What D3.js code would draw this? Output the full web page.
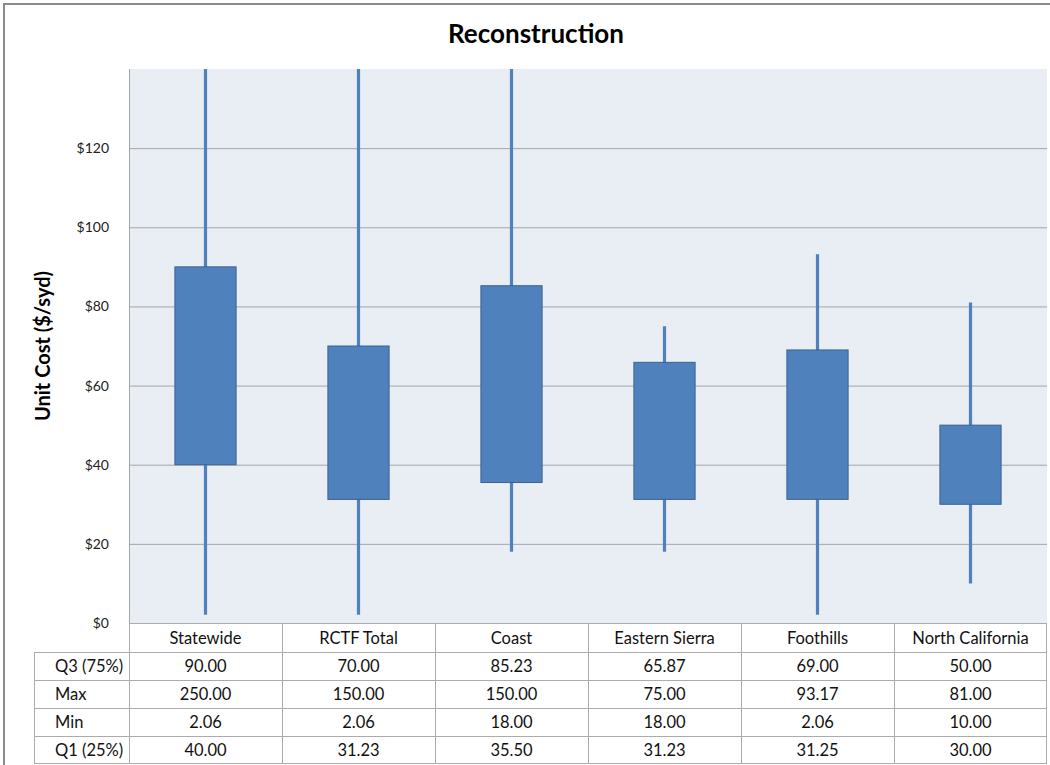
<!DOCTYPE html>
<html>
<head>
<meta charset="utf-8">
<script src="https://cdn.jsdelivr.net/npm/d3@7"></script>
<style>
  body { margin: 0; background: #fff; }
  svg { display: block; }
  text { font-family: Lato, "Open Sans", sans-serif; }
</style>
</head>
<body>
<svg id="chart" width="1050" height="765"></svg>
<script>
const categories = ["Statewide", "RCTF Total", "Coast", "Eastern Sierra", "Foothills", "North California"];
const q3Values  = [90.00, 70.00, 85.23, 65.87, 69.00, 50.00];
const maxValues = [250.00, 150.00, 150.00, 75.00, 93.17, 81.00];
const minValues = [2.06, 2.06, 18.00, 18.00, 2.06, 10.00];
const q1Values  = [40.00, 31.23, 35.50, 31.23, 31.25, 30.00];
const rowLabels = ["Q3 (75%)", "Max", "Min", "Q1 (25%)"];
const yTicks = [0, 20, 40, 60, 80, 100, 120];
const title = "Reconstruction";
const yTitle = "Unit Cost ($/syd)";

const rowsData = [q3Values, maxValues, minValues, q1Values];

const svg = d3.select("#chart");
const plot = { left: 129, right: 1047, top: 69, bottom: 623 };
const blue = "#4F81BD", boxStroke = "#3A6292", gridCol = "#A5A5A5", tableLine = "#ABABAB";

// outer border
svg.append("path").attr("d", "M4,765 V4 H1050").attr("fill", "none").attr("stroke", "#8C8C8C").attr("stroke-width", 2);

const x = d3.scaleBand().domain(categories).range([plot.left, plot.right]);
const y = d3.scaleLinear().domain([0, 140]).range([plot.bottom, plot.top]);

// background
svg.append("rect").attr("x", plot.left).attr("y", plot.top)
  .attr("width", plot.right - plot.left).attr("height", plot.bottom - plot.top)
  .attr("fill", "#E9EDF4");

// grid
const grid = svg.append("g").attr("transform", `translate(${plot.left},0)`)
  .call(d3.axisLeft(y).tickValues(yTicks).tickSize(-(plot.right - plot.left)).tickFormat(""));
grid.select(".domain").remove();
grid.selectAll("line").attr("stroke", gridCol).attr("stroke-width", 1);

// y axis labels
const yAxis = svg.append("g").attr("transform", `translate(${plot.left - 17},0)`)
  .call(d3.axisLeft(y).tickValues(yTicks).tickSize(0).tickFormat(d => "$" + d));
yAxis.select(".domain").remove();
yAxis.selectAll("text").attr("font-size", 14).attr("fill", "#222").attr("font-family", "Lato, sans-serif");

// left axis line
svg.append("line").attr("x1", plot.left + 0.5).attr("x2", plot.left + 0.5)
  .attr("y1", plot.top).attr("y2", plot.bottom).attr("stroke", gridCol);

// clip
svg.append("clipPath").attr("id", "clip").append("rect")
  .attr("x", plot.left).attr("y", plot.top)
  .attr("width", plot.right - plot.left).attr("height", plot.bottom - plot.top);

const marks = svg.append("g").attr("clip-path", "url(#clip)");
const boxW = x.bandwidth() * 0.4;
categories.forEach((c, i) => {
  const cx = x(c) + x.bandwidth() / 2;
  marks.append("line").attr("x1", cx).attr("x2", cx)
    .attr("y1", y(minValues[i])).attr("y2", y(maxValues[i]))
    .attr("stroke", blue).attr("stroke-width", 3.2);
  marks.append("rect").attr("x", cx - boxW / 2).attr("y", y(q3Values[i]))
    .attr("width", boxW).attr("height", y(q1Values[i]) - y(q3Values[i]))
    .attr("fill", blue).attr("stroke", boxStroke).attr("stroke-width", 1);
});

// title
svg.append("text").attr("x", 536).attr("y", 43).attr("text-anchor", "middle")
  .attr("font-size", 26).attr("font-weight", "bold").attr("fill", "#000").text(title);

// y title
svg.append("text").attr("transform", `translate(50,${(plot.top + plot.bottom) / 2}) rotate(-90)`)
  .attr("text-anchor", "middle").attr("font-size", 20).attr("font-weight", "bold").attr("fill", "#000")
  .text(yTitle);

// table
const tableTop = 624, rowH = 28;
const rowScale = d3.scaleBand().domain(rowLabels).range([tableTop + rowH, tableTop + rowH * 5]);
const tbl = svg.append("g");
const tableLeft = 34;
const fs = 16.5;

// horizontal lines
tbl.append("line").attr("x1", plot.left).attr("x2", plot.right).attr("y1", plot.bottom + 0.5).attr("y2", plot.bottom + 0.5).attr("stroke", tableLine);
rowLabels.forEach(r => {
  tbl.append("line").attr("x1", tableLeft).attr("x2", plot.right)
    .attr("y1", rowScale(r) + 0.5).attr("y2", rowScale(r) + 0.5).attr("stroke", tableLine);
});
tbl.append("line").attr("x1", tableLeft).attr("x2", plot.right)
  .attr("y1", tableTop + rowH * 5 - 0.5).attr("y2", tableTop + rowH * 5 - 0.5).attr("stroke", tableLine);
// vertical lines
tbl.append("line").attr("x1", tableLeft + 0.5).attr("x2", tableLeft + 0.5)
  .attr("y1", tableTop + rowH).attr("y2", tableTop + rowH * 5).attr("stroke", tableLine);
categories.forEach(c => {
  tbl.append("line").attr("x1", x(c) + 0.5).attr("x2", x(c) + 0.5)
    .attr("y1", plot.bottom).attr("y2", tableTop + rowH * 5).attr("stroke", tableLine);
});
tbl.append("line").attr("x1", plot.right - 0.5).attr("x2", plot.right - 0.5)
  .attr("y1", plot.bottom).attr("y2", tableTop + rowH * 5).attr("stroke", tableLine);

// header text
categories.forEach(c => {
  tbl.append("text").attr("x", x(c) + x.bandwidth() / 2).attr("y", tableTop + rowH / 2 + 6)
    .attr("text-anchor", "middle").attr("font-size", fs).attr("fill", "#111").text(c);
});
// row labels and values
rowLabels.forEach((r, ri) => {
  tbl.append("text").attr("x", tableLeft + 21).attr("y", rowScale(r) + rowH / 2 + 6)
    .attr("font-size", fs).attr("fill", "#111").text(r);
  categories.forEach((c, ci) => {
    tbl.append("text").attr("x", x(c) + x.bandwidth() / 2).attr("y", rowScale(r) + rowH / 2 + 6)
      .attr("text-anchor", "middle").attr("font-size", fs).attr("fill", "#111")
      .text(rowsData[ri][ci].toFixed(2));
  });
});
</script>
</body>
</html>
